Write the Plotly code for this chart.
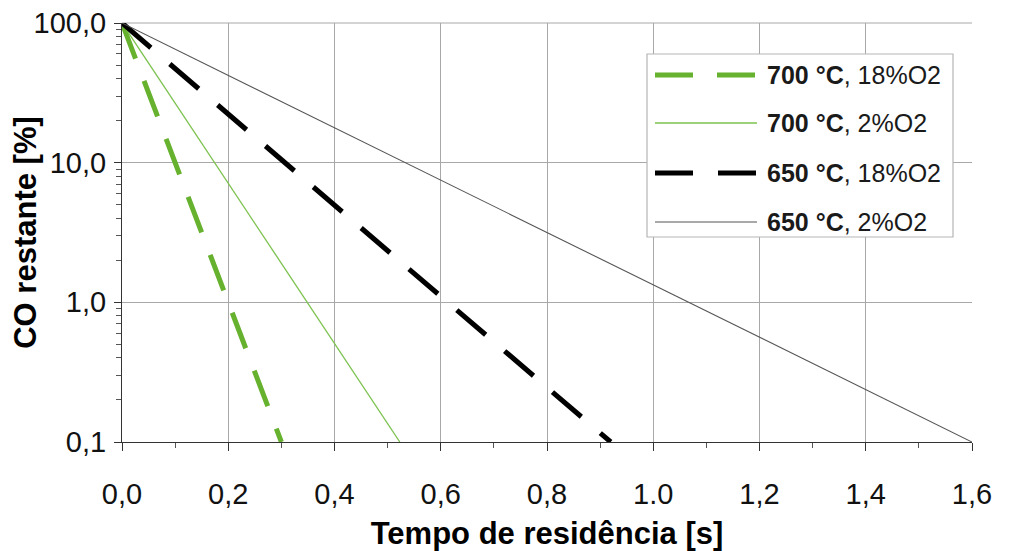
import plotly.graph_objects as go

# ---- data ----
series_names = ["700 °C, 18%O2", "700 °C, 2%O2", "650 °C, 18%O2", "650 °C, 2%O2"]
series_temp = ["700 °C", "700 °C", "650 °C", "650 °C"]
series_o2 = ["18%O2", "2%O2", "18%O2", "2%O2"]
series_x = [[0.0, 0.30], [0.0, 0.523], [0.0, 0.92], [0.0, 1.60]]
series_y = [[100.0, 0.1], [100.0, 0.1], [100.0, 0.1], [100.0, 0.1]]

x_tickvals = [0.0, 0.2, 0.4, 0.6, 0.8, 1.0, 1.2, 1.4, 1.6]
x_ticktext = ["0,0", "0,2", "0,4", "0,6", "0,8", "1.0", "1,2", "1,4", "1,6"]
y_tickvals = [0.1, 1, 10, 100]
y_ticktext = ["0,1", "1,0", "10,0", "100,0"]

# ---- styles ----
styles = [
    dict(color="#66b22e", width=5, dash="38px,24px"),
    dict(color="#7cc24e", width=1.3, dash="solid"),
    dict(color="#000000", width=5, dash="38px,25px"),
    dict(color="#555555", width=1.1, dash="solid"),
]

FONT = "Liberation Sans, Arial, sans-serif"
OFF = 8  # page body margin
W, H = 1014, 551
# plot area in page pixels: x 122..972, y 23..442
L, T = 122 - OFF, 23 - OFF
R = W + OFF - 972
B = H + OFF - 442
PW, PH = W - L - R, H - T - B

fig = go.Figure()
for i in range(4):
    fig.add_trace(go.Scatter(
        x=series_x[i], y=series_y[i], mode="lines", name=series_names[i],
        line=styles[i], showlegend=False,
    ))

def px_x(p):
    return (p - 122) / PW

def px_y(p):
    return (442 - p) / PH

shapes = []
annotations = []
# top grid/border line at 100
shapes.append(dict(type="line", xref="paper", yref="paper", x0=0, x1=1, y0=1, y1=1,
                   line=dict(color="#a8a8a8", width=1), layer="below"))
# legend box
shapes.append(dict(type="rect", xref="paper", yref="paper",
                   x0=px_x(647), x1=px_x(953), y0=px_y(237), y1=px_y(54),
                   line=dict(color="#b5b5b5", width=1.2), fillcolor="white", layer="above"))
row_y = [75, 123, 173, 222]
for i in range(4):
    st = styles[i]
    shapes.append(dict(type="line", xref="paper", yref="paper",
                       x0=px_x(655), x1=px_x(757), y0=px_y(row_y[i]), y1=px_y(row_y[i]),
                       line=dict(color=st["color"], width=st["width"], dash=st["dash"]),
                       layer="above"))
    annotations.append(dict(xref="paper", yref="paper", x=px_x(765), y=px_y(row_y[i]),
                            xanchor="left", yanchor="middle", showarrow=False,
                            text="<b>" + series_temp[i] + "</b>, " + series_o2[i],
                            font=dict(family=FONT, size=25, color="#1a1a1a")))

fig.update_layout(
    width=W, height=H,
    margin=dict(l=L, r=R, t=T, b=B, autoexpand=False),
    paper_bgcolor="white", plot_bgcolor="white",
    font=dict(family=FONT, color="#111111"),
    shapes=shapes, annotations=annotations,
)
fig.update_xaxes(
    range=[0, 1.6], tickvals=x_tickvals, ticktext=x_ticktext,
    automargin=False, ticklabeloverflow="allow",
    showgrid=True, gridcolor="#a8a8a8", gridwidth=1,
    showline=True, linecolor="#333333", linewidth=1.2,
    ticks="outside", ticklen=8, tickcolor="#333333", tickwidth=1.2,
    tickfont=dict(family=FONT, size=29, color="#111111"),
    ticklabelstandoff=18,
    minor=dict(ticks="outside", ticklen=5, dtick=0.1, tickcolor="#555555", showgrid=False),
    zeroline=False,
    title=dict(text="<b>Tempo de residência [s]</b>", font=dict(family=FONT, size=31, color="#000000"), standoff=13),
)
fig.update_yaxes(
    type="log", range=[-1, 2], tickvals=y_tickvals, ticktext=y_ticktext,
    automargin=False, ticklabeloverflow="allow",
    showgrid=True, gridcolor="#a8a8a8", gridwidth=1,
    showline=True, linecolor="#333333", linewidth=1.2,
    ticks="outside", ticklen=7, tickcolor="#333333", tickwidth=1.2,
    tickfont=dict(family=FONT, size=29, color="#111111"),
    ticklabelstandoff=2,
    minor=dict(ticks="outside", ticklen=5, dtick="D1", tickcolor="#555555", showgrid=False),
    zeroline=False,
    title=dict(text="<b>CO restante [%]</b>", font=dict(family=FONT, size=31, color="#000000"), standoff=0),
)
fig.write_html("out.html")
